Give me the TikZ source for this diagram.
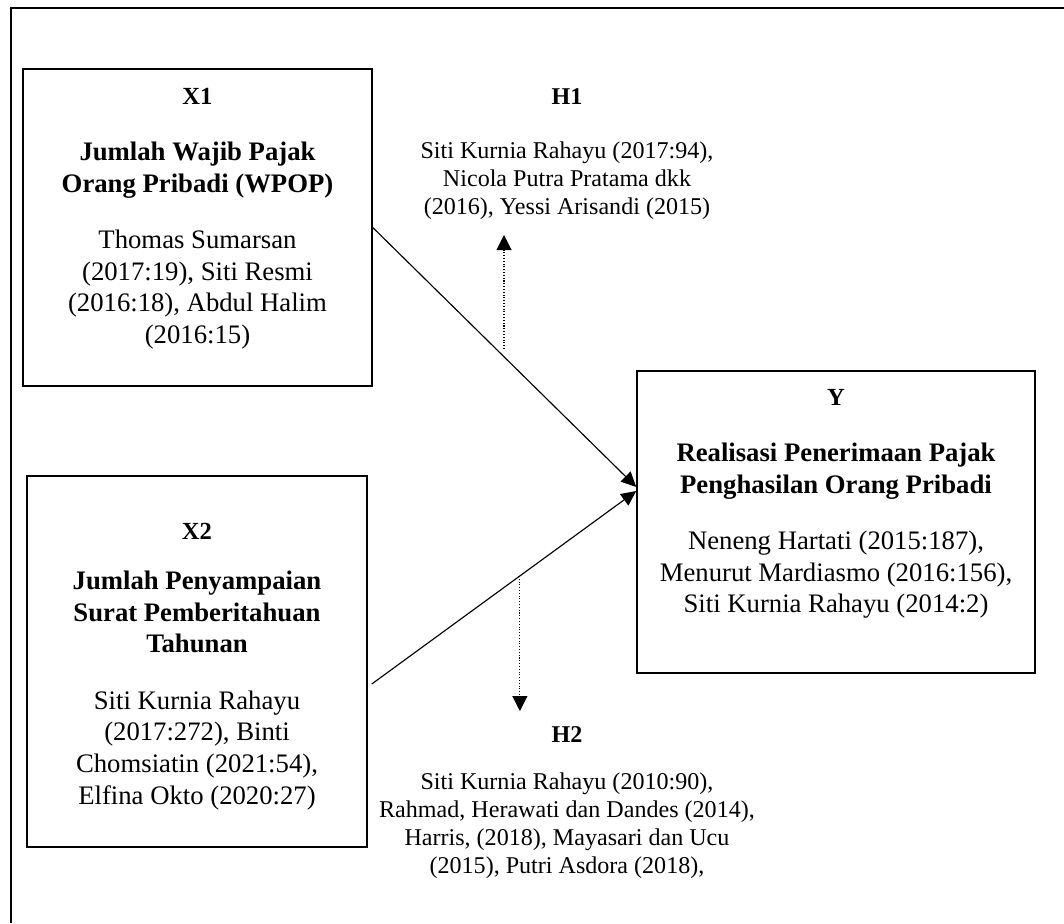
\documentclass[tikz,border=0pt]{standalone}
\usepackage{fontspec}
\setmainfont{Liberation Serif}
\usetikzlibrary{arrows.meta,positioning,calc}

\begin{document}
\begin{tikzpicture}[
    box/.style={draw, line width=0.85pt, inner sep=0pt},
    boxtext/.style={align=center, inner sep=0pt, anchor=north, font=\fontsize{15.2}{18}\selectfont},
    hyptext/.style={align=center, inner sep=0pt, anchor=north, font=\fontsize{13.7}{15.9}\selectfont},
    link/.style={line width=0.65pt, -{Triangle[length=0.3cm,width=0.28cm]}},
    hyp/.style={line width=0.6pt, densely dotted, -{Triangle[length=0.3cm,width=0.3cm]}}
  ]
  \useasboundingbox (0,0) rectangle (21.28,18.46);
  \draw[line width=0.9pt] (21.28,18.30) -- (0.22,18.30) -- (0.22,0);

  % variable boxes
  \node[box, minimum width=6.98cm, minimum height=6.34cm] (x1) at (3.95,13.91) {};
  \node[box, minimum width=6.80cm, minimum height=7.42cm] (x2) at (3.94,5.23) {};
  \node[box, minimum width=7.96cm, minimum height=6.04cm] (y) at (16.72,8.02) {};

  \node[boxtext] (x1txt) at (3.95,16.70) {{\fontsize{14}{18}\selectfont\textbf{X1}}\\[14pt]
    \textbf{Jumlah Wajib Pajak}\\ \textbf{Orang Pribadi (WPOP)}\\[14pt]
    Thomas Sumarsan\\ (2017:19), Siti Resmi\\ (2016:18), Abdul Halim\\ (2016:15)};
  \node[boxtext] (x2txt) at (3.94,8.00) {{\fontsize{14}{18}\selectfont\textbf{X2}}\\[10.5pt]
    \textbf{Jumlah Penyampaian}\\ \textbf{Surat Pemberitahuan}\\ \textbf{Tahunan}\\[14pt]
    Siti Kurnia Rahayu\\ (2017:272), Binti\\ Chomsiatin (2021:54),\\ Elfina Okto (2020:27)};
  \node[boxtext] (ytxt) at (16.72,10.68) {{\fontsize{14}{18}\selectfont\textbf{Y}}\\[14pt]
    \textbf{Realisasi Penerimaan Pajak}\\ \textbf{Penghasilan Orang Pribadi}\\[14pt]
    Neneng Hartati (2015:187),\\ Menurut Mardiasmo (2016:156),\\ Siti Kurnia Rahayu (2014:2)};

  % hypotheses
  \node[hyptext] (h1) at (11.34,16.70) {\textbf{H1}\\[15pt]
    Siti Kurnia Rahayu (2017:94),\\ Nicola Putra Pratama dkk\\ (2016), Yessi Arisandi (2015)};
  \node[hyptext] (h2) at (11.34,3.94) {\textbf{H2}\\[10.8pt]
    Siti Kurnia Rahayu (2010:90),\\ Rahmad, Herawati dan Dandes (2014),\\
    Harris, (2018), Mayasari dan Ucu\\ (2015), Putri Asdora (2018),};

  \coordinate (y1) at ($(y.west)+(0,0.70)$);
  \coordinate (y2) at ($(y.west)+(0,0.62)$);
  \coordinate (x2out) at ($(x2.east)+(0.08,-0.45)$);
  \draw[link] (x1.east) -- (y1);
  \draw[link] (x2out) -- coordinate[pos=0.56] (h2foot) (y2);

  \coordinate (h1foot) at (10.08,11.48);
  \coordinate (h1tip) at (10.08,13.76);
  \coordinate (h2tip) at (h2foot |- 0,4.24);
  \draw[hyp] (h1foot) -- (h1tip);
  \draw[hyp] (h2foot) -- (h2tip);
\end{tikzpicture}
\end{document}
